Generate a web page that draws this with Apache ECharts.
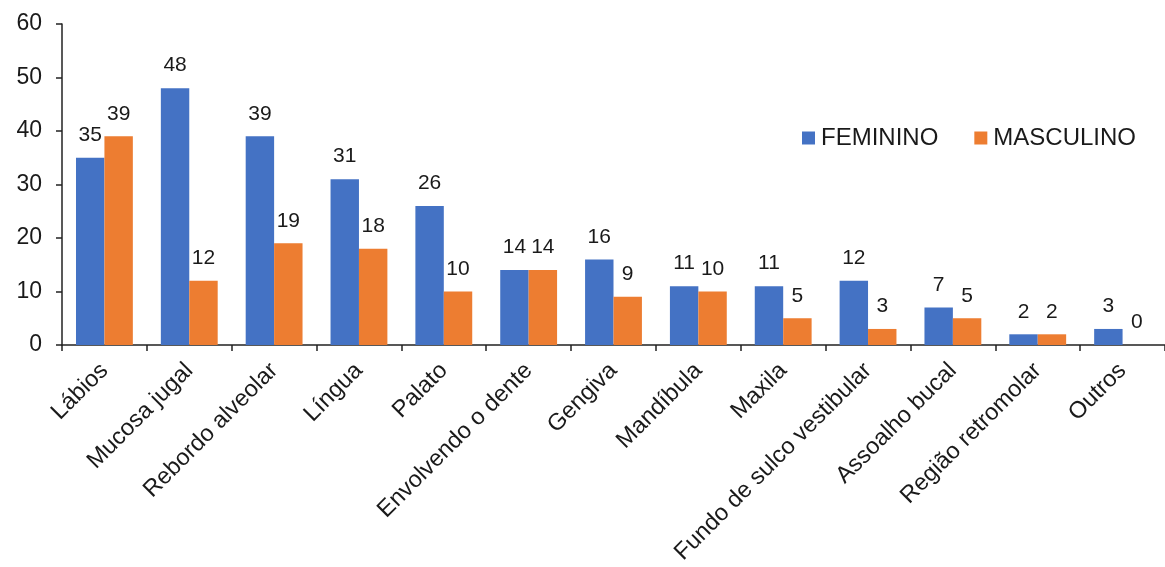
<!DOCTYPE html>
<html><head><meta charset="utf-8">
<script src="https://cdn.jsdelivr.net/npm/echarts@6/dist/echarts.min.js"></script>
<style>html,body{margin:0;padding:0;background:#fff;overflow:hidden}#c{width:1165px;height:567px}</style>
</head><body><div id="c"></div>
<script>
var categories = ['Lábios','Mucosa jugal','Rebordo alveolar','Língua','Palato','Envolvendo o dente','Gengiva','Mandíbula','Maxila','Fundo de sulco vestibular','Assoalho bucal','Região retromolar','Outros'];
var feminino = [35,48,39,31,26,14,16,11,11,12,7,2,3];
var masculino = [39,12,19,18,10,14,9,10,5,3,5,2,0];
var yTicks = {min:0, max:60, interval:10};
var font = '"Liberation Sans", Arial, sans-serif';
var chart = echarts.init(document.getElementById('c'), null, {renderer:'canvas'});
var lbl = {show:true, position:'top', distance:12, color:'#1a1a1a', fontSize:21, fontFamily:font};
chart.setOption({
  animation:false,
  textStyle:{fontFamily:font},
  grid:{left:62, right:-6, top:24, bottom:222, containLabel:false},
  legend:{
    data:['FEMININO','MASCULINO'], left:802, top:126, padding:0, itemWidth:13, itemHeight:13, itemGap:36,
    icon:'rect', textStyle:{fontSize:24, color:'#1a1a1a', fontFamily:font, padding:[0,0,0,1]}
  },
  xAxis:{
    type:'category', data:categories,
    axisLine:{lineStyle:{color:'#222', width:1.5}},
    axisTick:{show:true, alignWithLabel:false, length:6, lineStyle:{color:'#222', width:1.5}},
    axisLabel:{rotate:45, fontSize:23.5, color:'#1a1a1a', fontFamily:font, margin:22, interval:0}
  },
  yAxis:{
    type:'value', min:yTicks.min, max:yTicks.max, interval:yTicks.interval,
    axisLine:{show:true, lineStyle:{color:'#222', width:1.5}},
    axisTick:{show:true, length:6, lineStyle:{color:'#222', width:1.5}},
    splitLine:{show:false},
    axisLabel:{fontSize:23, color:'#1a1a1a', fontFamily:font, margin:20}
  },
  series:[
    {name:'FEMININO', type:'bar', data:feminino, barGap:'0%', barCategoryGap:'33%',
     itemStyle:{color:'#4472C4'}, label:lbl},
    {name:'MASCULINO', type:'bar', data:masculino, barGap:'0%', barCategoryGap:'33%',
     itemStyle:{color:'#ED7D31'}, label:lbl}
  ]
});
</script></body></html>
